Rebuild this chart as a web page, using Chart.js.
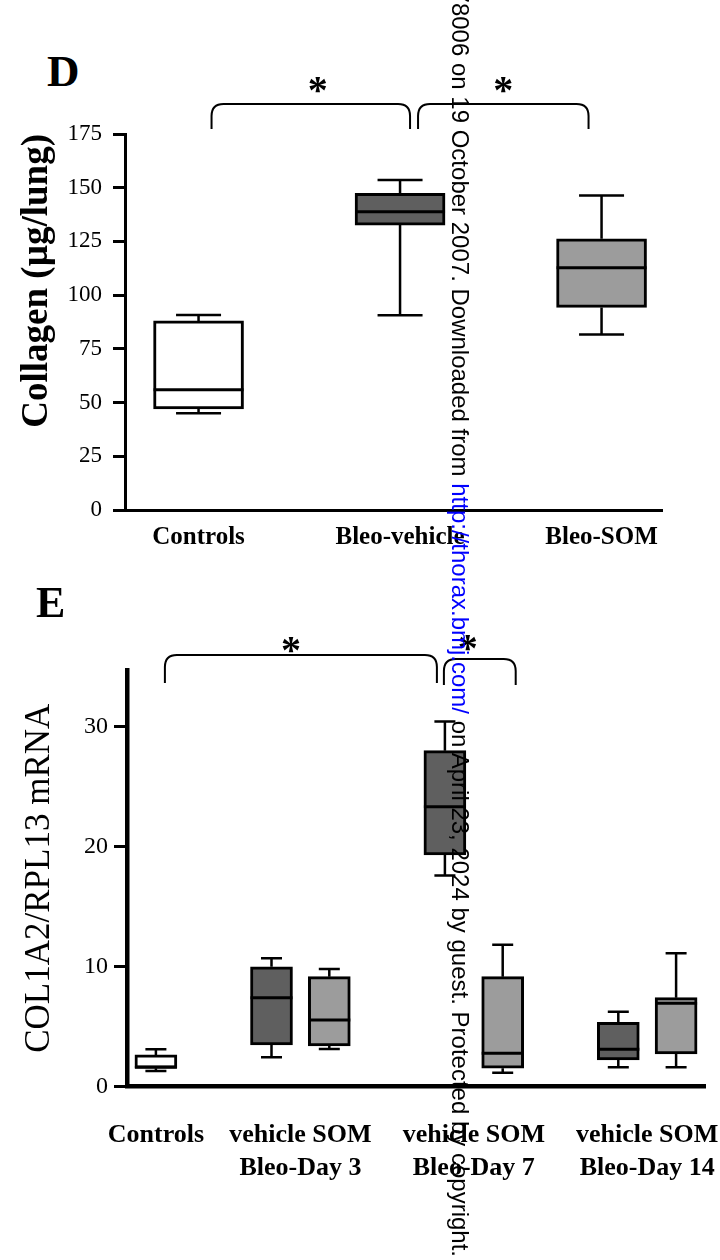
<!DOCTYPE html>
<html lang="en">
<head>
  <meta charset="UTF-8">
  <title>Collagen and COL1A2 box plots</title>
  <script src="https://cdn.jsdelivr.net/npm/chart.js"></script>
  <style>
    html, body {
      margin: 0;
      padding: 0;
      background: #fff;
      overflow: hidden;
    }

    body {
      position: relative;
      width: 720px;
      height: 1260px;
    }

    .letter {
      position: absolute;
      font-family: 'Liberation Serif', serif;
      font-weight: bold;
      line-height: 1;
      color: #000;
    }

    canvas {
      position: absolute;
      left: 0;
    }

    .stamp {
      position: absolute;
      left: 474px;
      top: -743px;
      width: 2000px;
      text-align: right;
      white-space: nowrap;
      transform: rotate(90deg);
      transform-origin: 0 0;
      font-family: 'Liberation Sans', Arial, sans-serif;
      font-size: 24px;
      color: #000;
    }

    .stamp .link {
      color: #0000ff;
    }
  </style>
</head>
<body>

  <div class="letter" style="left:47px; top:49px; font-size:45px;">D</div>
  <canvas id="chartD" width="720" height="600" style="top:0;"></canvas>

  <div class="letter" style="left:36px; top:581px; font-size:44px;">E</div>
  <canvas id="chartE" width="720" height="685" style="top:575px;"></canvas>

  <div class="stamp">Thorax: first published as 10.1136/thx.2006.078006 on 19 October 2007. Downloaded from <span class="link">http://thorax.bmj.com/</span> on April 23, 2024 by guest. Protected by copyright.</div>

  <script>
    // panel D - lung collagen
    const groupsD = ['Controls', 'Bleo-vehicle', 'Bleo-SOM'];
    const minD = [45, 90.6, 81.7];
    const q1D = [47, 132.6, 94.3];
    const medD = [56, 138.8, 112.8];
    const q3D = [88, 147.4, 126.2];
    const maxD = [90.7, 153.6, 146.4];
    const yTicksD = [0, 25, 50, 75, 100, 125, 150, 175];
    const pairsD = [[0, 1], [1, 2]];

    // panel E - COL1A2/RPL13 mRNA, gaps between the day groups are empty slots
    const slotsE = ['Controls', '', 'Day 3 vehicle', 'Day 3 SOM', '', 'Day 7 vehicle', 'Day 7 SOM', '', 'Day 14 vehicle', 'Day 14 SOM'];
    const minE = [1.3, null, 2.43, 3.12, null, 17.57, 1.15, null, 1.6, 1.6];
    const q1E = [1.52, null, 3.46, 3.38, null, 19.3, 1.52, null, 2.21, 2.71];
    const medE = [1.6, null, 7.4, 5.54, null, 23.3, 2.77, null, 3.1, 6.93];
    const q3E = [2.63, null, 9.98, 9.15, null, 27.98, 9.15, null, 5.35, 7.4];
    const maxE = [3.1, null, 10.68, 9.79, null, 30.4, 11.8, null, 6.23, 11.1];
    const yTicksE = [0, 10, 20, 30];
    const groupSlotsE = [[0], [2, 3], [5, 6], [8, 9]];
    const groupLabelsE = [['Controls'], ['vehicle SOM', 'Bleo-Day 3'], ['vehicle SOM', 'Bleo-Day 7'], ['vehicle SOM', 'Bleo-Day 14']];
    const pairsE = [[0, 5], [5, 6]];

    const serif = "'Liberation Serif', 'Times New Roman', serif";
    const fillD = ['#ffffff', '#5f5f5f', '#9c9c9c'];
    const fillE = ['#ffffff', null, '#5f5f5f', '#9c9c9c', null, '#5f5f5f', '#9c9c9c', null, '#5f5f5f', '#9c9c9c'];

    // whiskers and median lines on top of the floating bars
    const boxPlot = {
      id: 'boxPlot',
      afterDatasetsDraw(chart, args, opts) {
        const { ctx, scales: { y } } = chart;
        const meta = chart.getDatasetMeta(0);
        ctx.save();
        ctx.strokeStyle = '#000';
        meta.data.forEach((bar, i) => {
          if (opts.med[i] == null) return;
          const half = bar.width / 2;
          const cap = half * opts.capRatio;
          const top = Math.min(bar.y, bar.base);
          const bottom = Math.max(bar.y, bar.base);
          const yMax = y.getPixelForValue(opts.max[i]);
          const yMin = y.getPixelForValue(opts.min[i]);
          const yMed = y.getPixelForValue(opts.med[i]);
          ctx.lineWidth = opts.lineWidth;
          ctx.beginPath();
          ctx.moveTo(bar.x, top);
          ctx.lineTo(bar.x, yMax);
          ctx.moveTo(bar.x - cap, yMax);
          ctx.lineTo(bar.x + cap, yMax);
          ctx.moveTo(bar.x, bottom);
          ctx.lineTo(bar.x, yMin);
          ctx.moveTo(bar.x - cap, yMin);
          ctx.lineTo(bar.x + cap, yMin);
          ctx.stroke();
          ctx.lineWidth = opts.medianWidth;
          ctx.beginPath();
          ctx.moveTo(bar.x - half, yMed);
          ctx.lineTo(bar.x + half, yMed);
          ctx.stroke();
        });
        ctx.restore();
      }
    };

    // significance brackets with asterisks
    const braces = {
      id: 'braces',
      afterDraw(chart, args, opts) {
        const { ctx, scales: { x } } = chart;
        const r = opts.radius;
        ctx.save();
        ctx.strokeStyle = '#000';
        ctx.fillStyle = '#000';
        ctx.lineWidth = opts.lineWidth;
        ctx.font = 'bold 40px ' + serif;
        ctx.textAlign = 'center';
        opts.pairs.forEach((pair, k) => {
          const s = opts.shapes[k];
          const x1 = x.getPixelForValue(pair[0]) + s.dl;
          const x2 = x.getPixelForValue(pair[1]) + s.dr;
          ctx.beginPath();
          ctx.moveTo(x1, s.bottom);
          ctx.lineTo(x1, s.top + r);
          ctx.quadraticCurveTo(x1, s.top, x1 + r, s.top);
          ctx.lineTo(x2 - r, s.top);
          ctx.quadraticCurveTo(x2, s.top, x2, s.top + r);
          ctx.lineTo(x2, s.bottom);
          ctx.stroke();
          ctx.fillText('*', (x1 + x2) / 2 + s.ds, s.star);
        });
        ctx.restore();
      }
    };

    new Chart(document.getElementById('chartD'), {
      type: 'bar',
      data: {
        datasets: [{
          data: groupsD.map((g, i) => ({ x: i, y: [q1D[i], q3D[i]] })),
          backgroundColor: fillD,
          borderColor: '#000',
          borderWidth: 3,
          borderSkipped: false,
          barThickness: 90
        }]
      },
      options: {
        responsive: false,
        animation: false,
        events: [],
        layout: { padding: { top: 134, right: 58, left: 0, bottom: 0 } },
        plugins: {
          legend: { display: false },
          tooltip: { enabled: false },
          boxPlot: { min: minD, med: medD, max: maxD, capRatio: 0.5, lineWidth: 2.5, medianWidth: 3 },
          braces: {
            pairs: pairsD,
            radius: 12,
            lineWidth: 2,
            shapes: [
              { dl: 13, dr: 10, top: 104, bottom: 129, ds: 7, star: 103 },
              { dl: 18, dr: -13, top: 104, bottom: 129, ds: 0, star: 103 }
            ]
          }
        },
        scales: {
          x: {
            type: 'linear',
            offset: false,
            min: -0.365,
            max: 2.3,
            afterBuildTicks: (axis) => { axis.ticks = groupsD.map((g, i) => ({ value: i })); },
            afterFit: (axis) => { axis.height = 90; axis.paddingLeft = 0; axis.paddingRight = 0; },
            ticks: {
              callback: (v, i) => groupsD[i],
              color: '#000',
              font: { family: serif, size: 25, weight: 'bold' },
              padding: 13,
              autoSkip: false,
              maxRotation: 0
            },
            grid: { display: false, drawTicks: false },
            border: { color: '#000', width: 3 }
          },
          y: {
            min: 0,
            max: 175,
            afterBuildTicks: (axis) => { axis.ticks = yTicksD.map(v => ({ value: v })); },
            afterFit: (axis) => { axis.width = 125; },
            ticks: {
              color: '#000',
              font: { family: serif, size: 23 },
              padding: 11
            },
            grid: { drawOnChartArea: false, tickLength: 12, color: '#000', lineWidth: 3 },
            border: { color: '#000', width: 3 },
            title: {
              display: true,
              text: 'Collagen (µg/lung)',
              color: '#000',
              align: 'end',
              font: { family: serif, size: 37, weight: 'bold' },
              padding: { top: 15 }
            }
          }
        }
      },
      plugins: [boxPlot, braces]
    });

    new Chart(document.getElementById('chartE'), {
      type: 'bar',
      data: {
        labels: slotsE,
        datasets: [{
          data: slotsE.map((s, i) => (q1E[i] == null ? null : [q1E[i], q3E[i]])),
          backgroundColor: fillE,
          borderColor: '#000',
          borderWidth: 3,
          borderSkipped: false,
          barThickness: 42
        }]
      },
      options: {
        responsive: false,
        animation: false,
        events: [],
        layout: { padding: { top: 95, right: 15, left: 0, bottom: 0 } },
        plugins: {
          legend: { display: false },
          tooltip: { enabled: false },
          boxPlot: { min: minE, med: medE, max: maxE, capRatio: 0.5, lineWidth: 2.5, medianWidth: 3 },
          braces: {
            pairs: pairsE,
            radius: 12,
            lineWidth: 2,
            shapes: [
              { dl: 9, dr: -8, top: 80, bottom: 108, ds: -10, star: 88 },
              { dl: -1, dr: 13, top: 84, bottom: 110, ds: -12, star: 86 }
            ]
          }
        },
        scales: {
          x: {
            display: false
          },
          x2: {
            type: 'linear',
            position: 'bottom',
            offset: false,
            min: 0,
            max: slotsE.length,
            afterBuildTicks: (axis) => {
              axis.ticks = groupSlotsE.map(g => ({ value: g.reduce((a, b) => a + b, 0) / g.length + 0.5 }));
            },
            afterFit: (axis) => { axis.height = 173.5; axis.paddingLeft = 0; axis.paddingRight = 0; },
            ticks: {
              callback: (v, i) => groupLabelsE[i],
              color: '#000',
              font: { family: serif, size: 26, weight: 'bold', lineHeight: '33px' },
              padding: 32,
              autoSkip: false,
              maxRotation: 0
            },
            grid: { display: false, drawTicks: false },
            border: { color: '#000', width: 4.5 }
          },
          y: {
            min: 0,
            max: 34.7,
            afterBuildTicks: (axis) => { axis.ticks = yTicksE.map(v => ({ value: v })); },
            afterFit: (axis) => { axis.width = 127; },
            ticks: {
              color: '#000',
              font: { family: serif, size: 24 },
              padding: 6
            },
            grid: { drawOnChartArea: false, tickLength: 13, color: '#000', lineWidth: 3 },
            border: { color: '#000', width: 4.5 },
            title: {
              display: true,
              text: 'COL1A2/RPL13 mRNA',
              color: '#000',
              font: { family: serif, size: 35 },
              padding: { top: 19 }
            }
          }
        }
      },
      plugins: [boxPlot, braces]
    });
  </script>

</body>
</html>
